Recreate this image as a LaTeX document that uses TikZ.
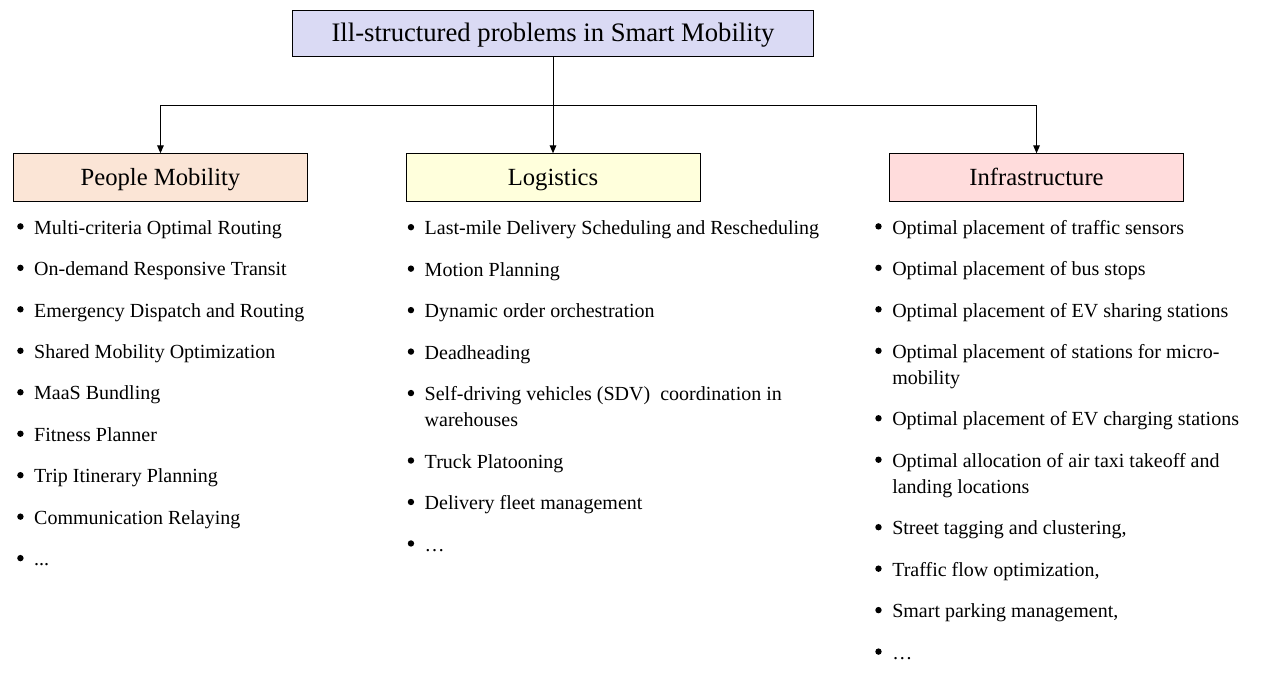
\documentclass[tikz,border=0pt]{standalone}
\usepackage{fontspec}
\setmainfont{Liberation Serif}
\usetikzlibrary{arrows.meta,positioning}
\definecolor{lavender}{HTML}{DADAF4}
\definecolor{peach}{HTML}{FBE5D6}
\definecolor{cream}{HTML}{FFFFDC}
\definecolor{rose}{HTML}{FFDCDC}

\begin{document}
\begin{tikzpicture}[
  x=0.75pt,y=-0.75pt,
  every node/.style={font=\fontsize{15pt}{19.5pt}\selectfont},
  title/.style={draw,fill=lavender,minimum width=390.75pt,minimum height=34.5pt,text height=17pt,text depth=4.5pt,font=\fontsize{20pt}{24pt}\selectfont},
  group/.style={draw,minimum width=220.5pt,minimum height=36pt,text height=16pt,text depth=4pt,font=\fontsize{18.5pt}{22pt}\selectfont},
  dot/.style={circle,fill,inner sep=0pt,minimum size=4.8pt,anchor=north east,xshift=-8.5pt,yshift=-3.4pt},
  entry/.style={inner sep=0pt,outer sep=0pt,text height=11pt,text depth=4pt,align=left,label={[dot]north west:{}}},
  entry2/.style={entry,text height=30.5pt},
  arrow/.style={-{Triangle[length=6pt,width=5pt]},line width=0.75pt}
]
\useasboundingbox (0,0) rectangle (1269,678);

\node[title] (top) at (553,33) {Ill-structured problems in Smart Mobility};
\node[group,fill=cream,below=72.75pt of top] (lg) {Logistics};
\node[group,fill=peach,left=73.5pt of lg] (pm) {People Mobility};
\node[group,fill=rose,right=141.75pt of lg] (inf) {Infrastructure};

\coordinate (bus) at (553,105);
\draw[line width=0.75pt] (top) -- (bus);
\draw[arrow] (bus) -- (lg);
\draw[arrow] (bus) -| (pm);
\draw[arrow] (bus) -| (inf);

% people mobility
\node[entry,below=13.2pt of pm.south west,anchor=north west,xshift=15.75pt] (pm1) {Multi-criteria Optimal Routing};
\node[entry,below=16.1pt of pm1.south west,anchor=north west] (pm2) {On-demand Responsive Transit};
\node[entry,below=16.1pt of pm2.south west,anchor=north west] (pm3) {Emergency Dispatch and Routing};
\node[entry,below=16.1pt of pm3.south west,anchor=north west] (pm4) {Shared Mobility Optimization};
\node[entry,below=16.1pt of pm4.south west,anchor=north west] (pm5) {MaaS Bundling};
\node[entry,below=16.1pt of pm5.south west,anchor=north west] (pm6) {Fitness Planner};
\node[entry,below=16.1pt of pm6.south west,anchor=north west] (pm7) {Trip Itinerary Planning};
\node[entry,below=16.1pt of pm7.south west,anchor=north west] (pm8) {Communication Relaying};
\node[entry,below=16.1pt of pm8.south west,anchor=north west] (pm9) {...};

% logistics
\node[entry,below=13.8pt of lg.south west,anchor=north west,xshift=14.25pt] (lg1) {Last-mile Delivery Scheduling and Rescheduling};
\node[entry,below=16.1pt of lg1.south west,anchor=north west] (lg2) {Motion Planning};
\node[entry,below=16.1pt of lg2.south west,anchor=north west] (lg3) {Dynamic order orchestration};
\node[entry,below=16.1pt of lg3.south west,anchor=north west] (lg4) {Deadheading};
\node[entry2,below=16.1pt of lg4.south west,anchor=north west] (lg5) {Self-driving vehicles (SDV)\ \ coordination in\\warehouses};
\node[entry,below=16.1pt of lg5.south west,anchor=north west] (lg6) {Truck Platooning};
\node[entry,below=16.1pt of lg6.south west,anchor=north west] (lg7) {Delivery fleet management};
\node[entry,below=16.1pt of lg7.south west,anchor=north west] (lg8) {…};

% infrastructure
\node[entry,below=13.2pt of inf.south west,anchor=north west,xshift=2.25pt] (inf1) {Optimal placement of traffic sensors};
\node[entry,below=16.1pt of inf1.south west,anchor=north west] (inf2) {Optimal placement of bus stops};
\node[entry,below=16.1pt of inf2.south west,anchor=north west] (inf3) {Optimal placement of EV sharing stations};
\node[entry2,below=16.1pt of inf3.south west,anchor=north west] (inf4) {Optimal placement of stations for micro-\\mobility};
\node[entry,below=16.1pt of inf4.south west,anchor=north west] (inf5) {Optimal placement of EV charging stations};
\node[entry2,below=16.1pt of inf5.south west,anchor=north west] (inf6) {Optimal allocation of air taxi takeoff and\\landing locations};
\node[entry,below=16.1pt of inf6.south west,anchor=north west] (inf7) {Street tagging and clustering,};
\node[entry,below=16.1pt of inf7.south west,anchor=north west] (inf8) {Traffic flow optimization,};
\node[entry,below=16.1pt of inf8.south west,anchor=north west] (inf9) {Smart parking management,};
\node[entry,below=16.1pt of inf9.south west,anchor=north west] (inf10) {…};
\end{tikzpicture}
\end{document}
